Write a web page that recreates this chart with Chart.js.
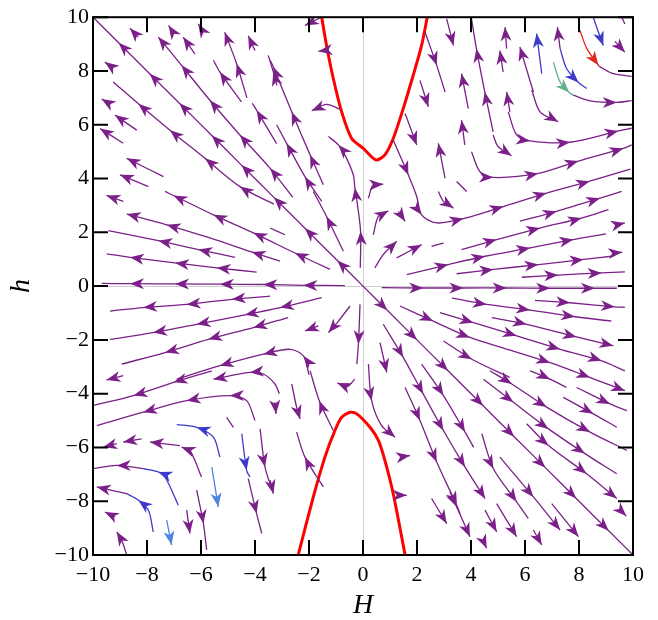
<!DOCTYPE html>
<html>
<head>
<meta charset="utf-8">
<script src="https://cdn.jsdelivr.net/npm/chart.js@4.4.1/dist/chart.umd.min.js"></script>
<style>
  body { margin: 0; background: #fff; }
  #wrap { width: 658px; height: 620px; }
</style>
</head>
<body>
<div id="wrap"><canvas id="flowChart" width="658" height="620"></canvas></div>
<script>
// tick values shared by both axes
const tickValues = [-10, -8, -6, -4, -2, 0, 2, 4, 6, 8, 10];

// red boundary curve ([H, h])
const redUpper = [[-1.53,10],[-1.35,8.95],[-1.1,7.72],[-0.79,6.48],[-0.42,5.49],[0.01,5.12],[0.48,4.69],[0.81,4.88],[1.12,5.49],[1.49,6.6],[1.86,7.84],[2.17,8.95],[2.38,10]];
const redLower = [[-2.4,-10],[-1.84,-7.84],[-1.41,-6.36],[-1.04,-5.37],[-0.79,-4.88],[-0.48,-4.69],[-0.23,-4.75],[0.26,-5.25],[0.57,-5.74],[0.81,-6.48],[1.12,-7.72],[1.56,-10]];

// streamlines: [H, h] points, a third value 1 marks an arrow tip
const purpleLines = [
  [[0,0],[-0.95,0.95,1],[-2.15,2.15,1],[-3.3,3.3,1],[-4.5,4.5,1],[-5.6,5.6,1],[-6.8,6.8,1],[-7.9,7.9,1],[-9.05,9.05,1],[-10,10]],
  [[-2.6,3.3],[-3.44,4.38,1],[-4.56,5.62,1],[-5.67,6.91,1],[-6.72,8.21,1],[-7.58,9.26,1]],
  [[-3.3,3.05],[-4.56,3.7,1],[-5.85,4.75,1],[-7.15,5.8,1],[-8.32,6.78,1],[-9.25,7.59]],
  [[-3.2,5.3],[-3.94,6.54,1],[-4.1,6.8]],
  [[-4.5,6.85],[-5.3,7.96,1],[-5.54,8.4]],
  [[-4.3,7.0],[-4.68,8.27,1],[-5.12,9.44,1]],
  [[-4.0,8.76],[-4.25,9.31,1]],
  [[-3.19,7.47],[-3.32,7.96,1],[-3.51,8.58]],
  [[-8.33,9.26],[-8.63,9.59,1]],
  [[-7.0,9.38],[-7.2,9.69,1]],
  [[-6.23,8.64],[-6.66,9.26,1]],
  [[-5.93,9.47],[-6.1,9.75,1]],
  [[-9.25,8.11],[-9.56,8.33,1]],
  [[-9.37,6.77],[-9.68,6.96,1]],
  [[-8.38,5.8],[-9.19,6.36,1]],
  [[-8.88,5.31],[-9.74,5.86,1]],
  [[-7.39,4.07],[-8.75,4.75,1]],
  [[-7.95,3.7],[-9.0,4.14,1]],
  [[-8.88,3.15],[-9.5,3.37,1]],
  [[-1.47,3.77],[-1.96,4.88,1],[-2.64,6.48,1],[-3.32,8.15,1],[-3.44,8.4]],
  [[-1.53,3.15],[-2.15,4.07,1],[-2.83,5.31,1],[-3.2,6.0]],
  [[-0.73,1.3],[-1.35,2.59,1],[-1.84,3.52]],
  [[-1.22,0.62],[-2.52,1.23,1],[-4.06,1.98,1],[-5.54,2.65,1],[-7.02,3.37,1],[-7.33,3.52]],
  [[-2.89,1.91],[-3.44,2.16]],
  [[-3.07,0.93],[-4.12,1.27,1],[-5.67,1.79],[-7.27,2.28,1],[-8.75,2.68,1]],
  [[-4.74,1.07],[-6.1,1.36,1],[-7.58,1.69,1],[-9.43,2.06]],
  [[-3.94,0.52],[-5.42,0.68,1],[-6.96,0.86,1],[-8.63,1.07,1],[-9.49,1.2]],
  [[-0.67,0.02],[-2.21,0.03,1],[-3.69,0.06,1],[-5.3,0.07,1],[-6.96,0.08,1],[-8.63,0.09,1],[-9.68,0.1]],
  [[-1.59,9.98],[-2.15,9.69,1]],
  [[-1.35,8.77],[-1.65,8.73,1]],
  [[-0.85,6.58],[-1.35,6.76],[-1.9,6.52,1]],
  [[-0.1,0.68],[-0.09,2.04,1],[-0.23,3.21],[-0.3,3.65,1],[-0.36,4.14],[-0.67,4.88],[-0.91,5.25,1],[-1.28,5.56]],
  [[0.38,1.91],[0.57,2.59],[0.94,2.8,1]],
  [[1.31,2.78],[1.56,2.41,1]],
  [[0.44,0.68],[0.75,1.17],[1.25,1.67,1]],
  [[1.25,1.05],[2.17,1.54,1]],
  [[2.54,1.48],[2.98,1.6]],
  [[1.62,0.43],[3.16,0.8,1],[4.52,1.11,1],[6.19,1.42,1],[7.79,1.73,1],[9.0,1.94]],
  [[1.12,5.43],[1.68,4.13,1],[1.99,3.33],[2.17,2.65,1],[2.73,2.35],[3.72,2.51,1],[5.2,2.96,1],[6.8,3.46,1],[8.4,3.9,1],[9.9,4.35]],
  [[2.79,3.52],[2.98,3.15],[3.35,2.9,1]],
  [[0.69,-0.06],[2.23,-0.07,1],[3.72,-0.07,1],[5.32,-0.07,1],[6.93,-0.08,1],[8.59,-0.08,1],[9.4,-0.08]],
  [[5.81,2.41],[7.17,2.78,1],[8.78,3.27,1],[9.58,3.52]],
  [[9.4,2.28],[9.7,2.35,1]],
  [[3.65,1.36],[4.95,1.73,1],[6.56,2.16,1],[8.1,2.53,1],[9.09,2.84]],
  [[9.3,1.23],[9.6,1.26,1]],
  [[3.47,0.46],[4.83,0.62,1],[6.5,0.8,1],[8.17,0.99,1],[9.2,1.11]],
  [[5.88,0.33],[7.23,0.41,1],[8.84,0.49,1],[9.7,0.53]],
  [[3.1,9.94],[3.35,8.95,1]],
  [[2.3,9.44],[2.73,8.21,1],[3.04,7.22]],
  [[2.11,7.65],[2.42,6.67,1]],
  [[1.56,6.42],[1.99,5.25,1]],
  [[3.04,4.01],[2.79,5.31,1]],
  [[0.2,3.27],[0.38,3.77],[0.75,3.79,1]],
  [[4.82,5.74],[4.51,7.22,1],[4.2,8.83,1],[4.02,9.94]],
  [[4.82,5.62],[5.0,5.19],[5.5,4.85,1]],
  [[3.9,6.6],[3.65,7.9,1]],
  [[3.77,5.25],[3.65,6.17,1]],
  [[3.47,3.89],[3.84,3.52]],
  [[4.02,5.0],[4.33,4.26],[4.82,4.04,1],[6.49,4.19,1],[7.98,4.65,1],[9.64,5.12,1],[9.95,5.25]],
  [[5.38,6.48],[5.69,5.62],[6.19,5.4,1],[7.67,5.35,1],[9.46,5.77,1],[9.95,5.87]],
  [[5.44,6.48],[5.32,7.22,1]],
  [[5.19,7.96],[5.07,8.76,1]],
  [[5.32,8.83],[5.26,9.63,1]],
  [[6.25,7.29],[6.56,6.48],[7.23,6.11,1]],
  [[6.31,7.22],[5.81,8.89,1]],
  [[7.3,8.83],[7.2,9.63,1]],
  [[7.79,7.1],[8.41,6.89],[9.4,6.83,1],[9.95,6.9]],
  [[8.78,8.15],[9.27,7.9],[9.95,7.8]],
  [[9.33,9.1],[9.7,8.7,1]],
  [[9.58,10.0],[9.7,9.75]],
  [[0,0],[0.9,-0.9,1],[2.0,-2.0,1],[3.15,-3.15,1],[4.45,-4.45,1],[5.6,-5.6,1],[6.75,-6.75,1],[7.9,-7.9,1],[9.1,-9.1,1],[10,-10]],
  [[2.85,-0.99],[4.09,-1.36,1],[5.69,-1.85,1],[7.3,-2.35,1],[8.84,-2.78,1],[9.7,-3.15]],
  [[3.3,-0.45],[4.58,-0.68,1],[6.19,-0.89,1],[7.85,-1.14,1],[9.2,-1.3]],
  [[6.37,-0.53],[7.67,-0.62,1],[9.33,-0.77,1],[9.7,-0.79]],
  [[4.77,-1.17],[6.06,-1.42,1],[7.91,-1.89,1],[9.27,-2.22,1]],
  [[1.37,-0.74],[2.6,-1.3,1],[3.96,-1.91,1],[5.51,-2.4],[6.93,-2.85,1],[8.41,-3.4,1],[9.7,-3.89,1]],
  [[2.98,-2.04],[4.03,-2.72,1],[5.44,-3.4]],
  [[6.19,-3.15],[6.93,-3.46,1],[7.54,-3.77]],
  [[7.91,-3.77],[9.15,-4.38,1],[9.77,-4.63]],
  [[7.42,-4.14],[8.53,-4.75,1],[9.4,-5.25]],
  [[6.06,-5.12],[6.87,-5.93,1],[8.28,-6.98,1],[9.4,-7.9,1]],
  [[4.7,-3.15],[5.51,-3.64,1],[6.8,-4.5,1],[8.41,-5.43,1],[9.77,-6.11]],
  [[4.46,-3.46],[5.57,-4.32,1],[6.87,-5.31,1],[8.22,-6.23,1],[9.4,-6.98]],
  [[0.75,-1.42],[1.49,-2.65,1],[2.23,-4.01,1],[2.98,-5.37,1],[3.78,-6.73,1],[4.52,-7.9,1]],
  [[0.63,-2.1],[0.88,-3.21,1]],
  [[0.2,-2.9],[0.32,-4.26,1],[0.69,-5.19],[1.19,-5.62,1]],
  [[2.17,-2.9],[2.98,-4.07,1],[3.78,-5.43,1],[4.1,-6.0]],
  [[1.56,-3.77],[2.11,-5.0,1],[2.73,-6.54,1],[3.47,-8.15,1],[3.59,-8.46]],
  [[2.54,-7.9],[3.1,-8.83,1]],
  [[1.37,-6.36],[1.74,-6.3,1]],
  [[1.31,-7.78],[1.62,-7.78,1]],
  [[3.22,-7.65],[3.47,-8.21,1],[3.96,-9.32,1]],
  [[4.4,-5.49],[4.83,-6.79,1],[5.69,-8.02,1],[6.12,-8.64]],
  [[5.07,-6.36],[6.31,-7.84,1],[7.3,-9.07,1]],
  [[6.99,-8.09],[7.98,-9.32,1]],
  [[4.52,-8.33],[4.95,-9.14,1]],
  [[4.95,-8.09],[5.69,-9.32,1]],
  [[6.31,-9.07],[6.62,-9.63,1]],
  [[4.44,-9.44],[4.58,-9.75,1]],
  [[9.5,-8.3],[9.75,-8.55,1]],
  [[-0.48,-0.74],[-0.91,-1.3],[-1.28,-1.73,1]],
  [[-1.65,-1.48],[-2.15,-1.67,1]],
  [[-0.11,-0.68],[-0.17,-2.16,1],[-0.23,-2.9]],
  [[-1.53,-0.43],[-3.07,-0.8,1],[-4.37,-1.07,1],[-6.16,-1.42,1],[-7.77,-1.73,1],[-9.37,-1.98]],
  [[-3.44,-0.37],[-4.86,-0.49,1],[-6.53,-0.68,1],[-8.14,-0.8,1],[-9.37,-0.93]],
  [[-2.77,-1.17],[-4.06,-1.54,1],[-5.73,-1.98,1],[-7.33,-2.47,1],[-8.94,-2.9]],
  [[-2.0,-3.3],[-2.2,-2.6,1],[-2.7,-2.35],[-3.69,-2.53,1],[-5.3,-2.96,1],[-6.9,-3.46]],
  [[-5.6,-3.15],[-7.02,-3.58,1],[-8.5,-4.07,1],[-9.99,-4.44]],
  [[-8.88,-3.33],[-9.5,-3.49,1]],
  [[-3.1,-4.0],[-3.26,-3.64],[-3.69,-3.27],[-4.19,-3.21,1],[-5.54,-3.46,1]],
  [[-3.26,-4.32],[-3.22,-4.75,1]],
  [[-4.0,-5.0],[-4.31,-4.26],[-4.93,-4.07,1],[-6.53,-4.26,1],[-8.14,-4.69,1],[-9.86,-5.19]],
  [[-8.2,-5.68],[-8.88,-5.8,1]],
  [[-9.12,-5.86],[-9.62,-5.99,1]],
  [[-6.78,-5.93],[-7.89,-5.8,1]],
  [[-5.98,-7.1],[-6.41,-6.11],[-6.72,-5.99,1]],
  [[-5.05,-4.88],[-4.8,-5.25]],
  [[-3.81,-5.31],[-3.63,-6.73,1],[-3.34,-7.65]],
  [[-4.25,-7.16],[-3.94,-8.46,1],[-3.75,-9.2]],
  [[-6.16,-7.59],[-5.91,-8.83,1],[-5.79,-9.81]],
  [[-6.53,-8.33],[-6.41,-9.2,1]],
  [[-8.14,-6.79],[-9.12,-6.67,1],[-9.99,-6.79]],
  [[-8.75,-7.72],[-9.86,-7.47,1]],
  [[-9.19,-8.58],[-9.56,-8.4,1]],
  [[-8.75,-10],[-8.94,-9.44],[-9.12,-9.14,1]],
  [[-2.64,-3.64],[-2.46,-4.5],[-2.33,-4.94,1]],
  [[-1.1,-5.37],[-1.62,-4.26,1],[-1.96,-3.15]],
  [[-1.47,-7.47],[-2.15,-6.36,1],[-2.46,-5.43]],
  [[-3.44,-7.22],[-3.32,-7.72,1]],
  [[-0.3,-3.46],[-0.6,-3.75],[-0.95,-3.6,1]]
];
const blueLines = [
  [[6.62,7.9],[6.43,9.39,1]],
  [[7.3,8.83],[7.54,8.09],[7.98,7.57,1],[8.29,7.35]],
  [[8.53,10.0],[8.72,9.44],[8.9,8.95,1]],
  [[-5.3,-6.36],[-5.54,-5.62],[-6.16,-5.25,1],[-6.9,-5.15]],
  [[-4.49,-5.49],[-4.31,-6.85,1],[-4.19,-7.1]],
  [[-6.84,-8.15],[-7.33,-7.1],[-7.58,-6.91,1],[-8.14,-6.79]],
  [[-7.77,-9.14],[-7.95,-8.33],[-8.32,-7.96,1],[-8.75,-7.72]]
];
const skyLines = [
  [[-5.6,-6.73],[-5.36,-8.21,1]],
  [[-7.27,-8.7],[-7.09,-9.63,1]]
];
const greenLines = [
  [[7.05,8.33],[7.3,7.59],[7.64,7.2,1],[7.79,7.1]]
];
const redLines = [
  [[8.04,9.5],[8.29,8.83],[8.72,8.21,1],[8.78,8.15]]
];

function streamSets(lines, color) {
  return lines.map(line => ({
    data: line.map(p => ({ x: p[0], y: p[1] })),
    heads: line.map((p, i) => (p[2] ? i : -1)).filter(i => i > 0),
    showLine: true,
    borderColor: color,
    backgroundColor: color,
    borderWidth: 1.3,
    pointRadius: 0,
    tension: 0.3
  }));
}

function curveSet(points) {
  return {
    data: points.map(p => ({ x: p[0], y: p[1] })),
    showLine: true,
    borderColor: '#ff0000',
    borderWidth: 3,
    pointRadius: 0,
    tension: 0.25
  };
}

const arrowHeads = {
  id: 'arrowHeads',
  afterDatasetsDraw(chart) {
    const { ctx, chartArea } = chart;
    ctx.save();
    ctx.beginPath();
    ctx.rect(chartArea.left, chartArea.top, chartArea.right - chartArea.left, chartArea.bottom - chartArea.top);
    ctx.clip();
    chart.data.datasets.forEach((ds, i) => {
      if (!ds.heads || !ds.heads.length) return;
      const pts = chart.getDatasetMeta(i).data;
      ds.heads.forEach(k => {
        const b = pts[k];
        let a = pts[k - 1];
        if (b.cp1x !== undefined && Math.hypot(b.x - b.cp1x, b.y - b.cp1y) > 1) {
          a = { x: b.cp1x, y: b.cp1y };
        }
        const ang = Math.atan2(b.y - a.y, b.x - a.x);
        ctx.save();
        ctx.translate(b.x, b.y);
        ctx.rotate(ang);
        ctx.fillStyle = ds.borderColor;
        ctx.beginPath();
        ctx.moveTo(0, 0);
        ctx.lineTo(-14, -5.5);
        ctx.lineTo(-10, 0);
        ctx.lineTo(-14, 5.5);
        ctx.closePath();
        ctx.fill();
        ctx.restore();
      });
    });
    ctx.restore();
  }
};

const frameTicks = {
  id: 'frameTicks',
  afterDraw(chart) {
    const { ctx, chartArea: a, scales } = chart;
    ctx.save();
    ctx.strokeStyle = '#000';
    ctx.lineWidth = 2;
    ctx.strokeRect(a.left, a.top, a.right - a.left, a.bottom - a.top);
    ctx.beginPath();
    tickValues.forEach(v => {
      const px = scales.x.getPixelForValue(v);
      const py = scales.y.getPixelForValue(v);
      ctx.moveTo(px, a.bottom); ctx.lineTo(px, a.bottom - 15);
      ctx.moveTo(px, a.top); ctx.lineTo(px, a.top + 15);
      ctx.moveTo(a.left, py); ctx.lineTo(a.left + 15, py);
      ctx.moveTo(a.right, py); ctx.lineTo(a.right - 15, py);
    });
    ctx.stroke();
    ctx.restore();
  }
};

const minus = v => String(v).replace('-', '\u2212');
const zeroLine = c => (c.tick && c.tick.value === 0 ? '#cfcfcf' : 'rgba(0,0,0,0)');
const tickFont = { family: 'Liberation Serif', size: 22 };
const titleFont = { family: 'Liberation Serif', size: 28, style: 'italic', lineHeight: 1 };

new Chart(document.getElementById('flowChart'), {
  type: 'scatter',
  data: {
    datasets: [
      ...streamSets(purpleLines, '#7b2088'),
      ...streamSets(blueLines, '#3c3cc8'),
      ...streamSets(skyLines, '#4d86e0'),
      ...streamSets(greenLines, '#62b08e'),
      ...streamSets(redLines, '#e3241f'),
      curveSet(redUpper),
      curveSet(redLower)
    ]
  },
  options: {
    responsive: false,
    animation: false,
    devicePixelRatio: 1,
    layout: { padding: { top: 15, right: 25, left: 0, bottom: 0 } },
    plugins: { legend: { display: false }, tooltip: { enabled: false } },
    scales: {
      x: {
        type: 'linear', min: -10, max: 10,
        afterBuildTicks: s => { s.ticks = tickValues.map(v => ({ value: v })); },
        afterFit: s => { s.height = 65; },
        grid: { color: zeroLine, lineWidth: 1, drawTicks: false },
        border: { display: false },
        ticks: { font: tickFont, color: '#000', padding: 7, maxRotation: 0, callback: minus },
        title: { display: true, text: 'H', font: titleFont, color: '#000', padding: 0 }
      },
      y: {
        type: 'linear', min: -10, max: 10,
        afterBuildTicks: s => { s.ticks = tickValues.map(v => ({ value: v })); },
        afterFit: s => { s.width = 93; },
        grid: { color: zeroLine, lineWidth: 1, drawTicks: false },
        border: { display: false },
        ticks: { font: tickFont, color: '#000', padding: 4, callback: minus },
        title: { display: true, text: 'h', font: titleFont, color: '#000', padding: { top: 8, bottom: 0 } }
      }
    }
  },
  plugins: [arrowHeads, frameTicks]
});
</script>
</body>
</html>
